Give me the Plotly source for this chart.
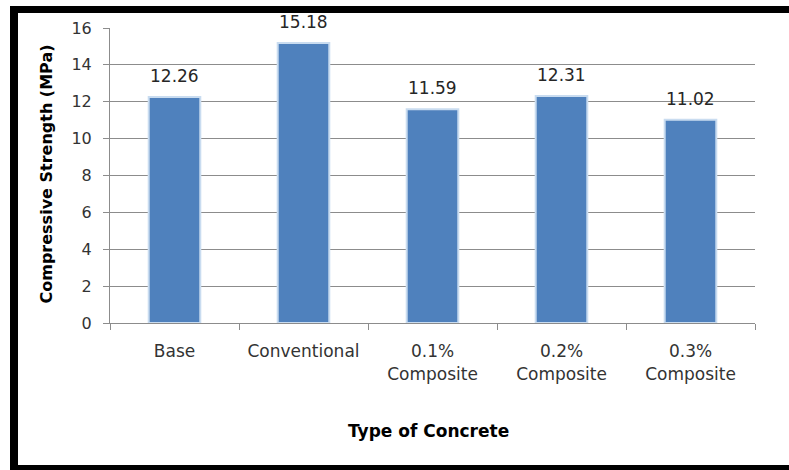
import plotly.graph_objects as go

categories = ["Base", "Conventional", "0.1%<br>Composite", "0.2%<br>Composite", "0.3%<br>Composite"]
strength = [12.26, 15.18, 11.59, 12.31, 11.02]
label_text = ["12.26", "15.18", "11.59", "12.31", "11.02"]
y_ticks = [0, 2, 4, 6, 8, 10, 12, 14, 16]

W, H = 789, 470
L, R, T, B = 110, 34, 28, 147
pw, ph = W - L - R, H - T - B

def px_x(p):
    return (p - L) / pw

def px_y(p):
    return (H - B - p) / ph

fig = go.Figure()
fig.add_trace(go.Bar(
    x=categories, y=strength,
    marker=dict(color="#4F81BD", line=dict(color="#C9DCF0", width=2)),
    width=0.40,
    hoverinfo="skip",
))

for c, v, t in zip(categories, strength, label_text):
    fig.add_annotation(x=c, y=v, text=t, showarrow=False, yanchor="bottom",
                       yshift=9, font=dict(family="DejaVu Sans", size=17, color="#262626"))

fig.add_annotation(xref="paper", yref="paper", x=px_x(34), y=px_y(174),
                   text="<b>Compressive Strength (MPa)</b>", textangle=-90, showarrow=False,
                   font=dict(family="DejaVu Sans", size=16, color="#000000"))
fig.add_annotation(xref="paper", yref="paper", x=px_x(428), y=px_y(443),
                   text="<b>Type of Concrete</b>", showarrow=False,
                   font=dict(family="DejaVu Sans", size=17, color="#000000"))

# black frame (left, top, bottom bands)
frame = [(10, 18, 6, 470), (10, 789, 6, 13), (10, 789, 465, 470)]
for x0, x1, y0, y1 in frame:
    fig.add_shape(type="rect", xref="paper", yref="paper",
                  x0=px_x(x0), x1=px_x(x1), y0=px_y(y1), y1=px_y(y0),
                  line=dict(width=0), fillcolor="black", layer="above")

fig.update_layout(
    width=W, height=H,
    margin=dict(l=L, r=R, t=T, b=B),
    paper_bgcolor="white", plot_bgcolor="white",
    showlegend=False,
    bargap=0.6,
    font=dict(family="DejaVu Sans", color="#404040"),
)
fig.update_xaxes(
    showline=True, linecolor="#8C8C8C", linewidth=1,
    ticks="outside", ticklen=6, tickcolor="#8C8C8C", tickson="boundaries",
    tickfont=dict(family="DejaVu Sans", size=17, color="#333333"),
    ticklabelstandoff=13,
    showgrid=False,
)
fig.update_yaxes(
    range=[0, 16], tickvals=y_ticks,
    showline=True, linecolor="#8C8C8C", linewidth=1,
    ticks="outside", ticklen=6, tickcolor="#8C8C8C",
    showgrid=True, gridcolor="#8C8C8C", gridwidth=1,
    tickfont=dict(family="DejaVu Sans", size=16, color="#333333"),
    ticklabelstandoff=8,
    zeroline=False,
)

fig.write_html("out.html")
